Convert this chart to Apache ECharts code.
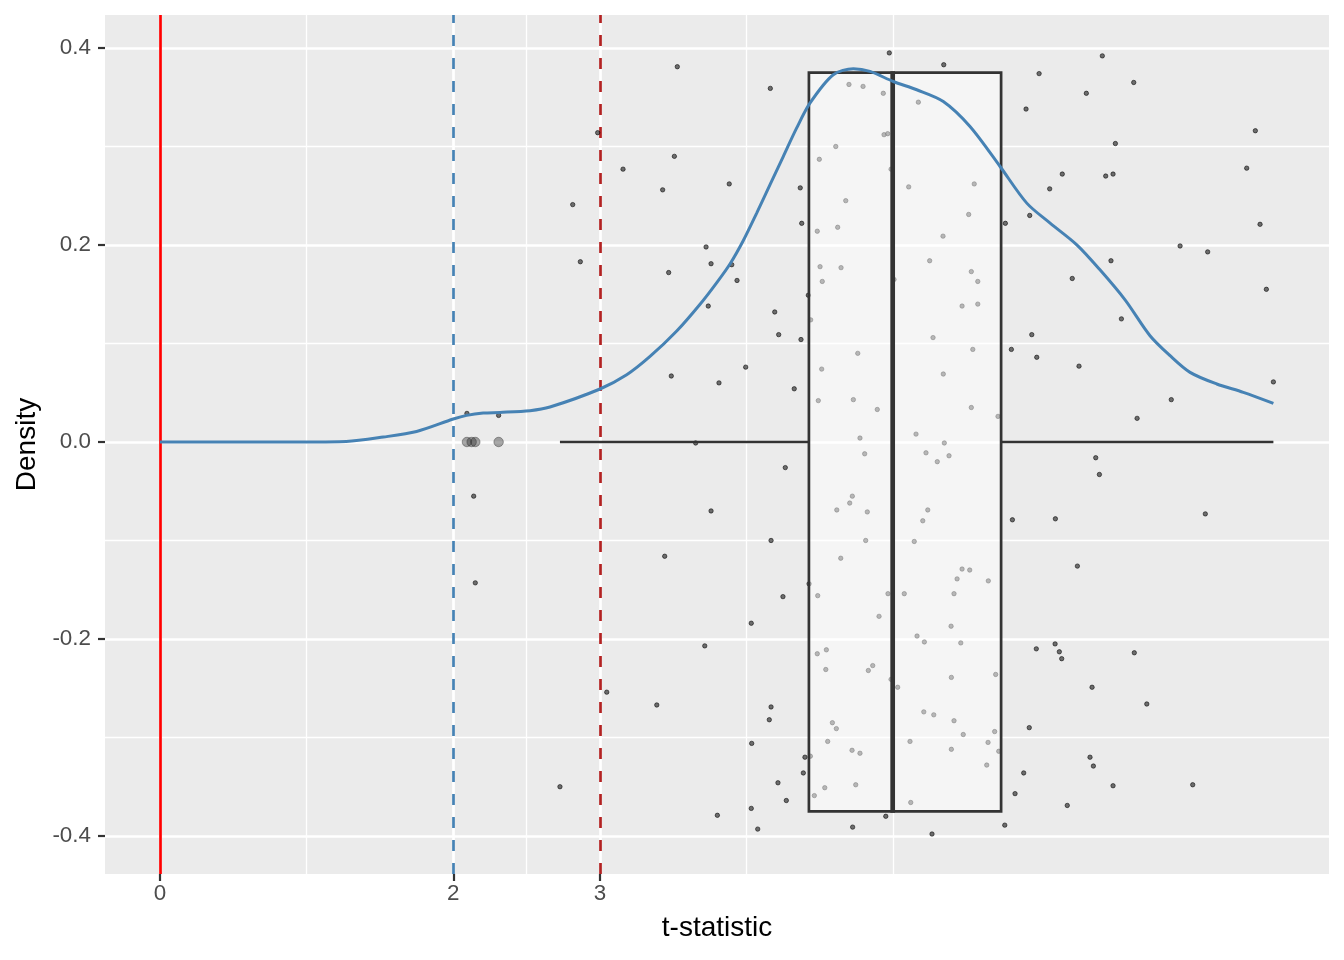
<!DOCTYPE html>
<html><head><meta charset="utf-8">
<script src="https://cdn.jsdelivr.net/npm/echarts@6/dist/echarts.min.js"></script>
<style>html,body{margin:0;padding:0;background:#fff;}#c{width:1344px;height:960px;}</style>
</head><body><div id="c"></div>
<script>
// ---- axis breaks ----
const xTicks = [0, 2, 3];
const xMinorBreaks = [1, 2.5, 4, 5];
const yTicks = [-0.4, -0.2, 0, 0.2, 0.4];
const yMinorBreaks = [-0.3, -0.1, 0.1, 0.3];
// ---- reference lines ----
const refLineSolid = [0];
const refLineBlue = [2];
const refLineRed = [3];
// ---- jittered t-statistics ----
const jitterX = [3.527,4.972,5.343,4.161,4.697,4.793,4.931,5.170,2.984,4.936,4.961,4.607,3.507,4.495,3.157,4.984,3.427,3.881,4.365,5.104,
5.551,2.814,4.675,4.375,4.481,4.620,5.513,5.338,3.723,2.866,3.757,3.898,3.468,3.934,4.500,4.643,4.515,5.247,5.531,5.575,
5.004,4.420,6.424,5.993,6.638,6.315,5.904,7.467,6.513,6.151,6.447,6.497,7.408,6.065,5.763,5.929,7.499,6.954,7.142,6.483,
6.219,7.542,2.093,2.309,2.139,2.150,3.738,4.191,5.468,5.575,4.436,4.218,4.370,5.270,4.757,5.541,4.511,5.340,3.486,3.993,
3.811,4.324,4.488,4.727,4.890,5.531,5.713,4.772,5.154,5.347,3.652,4.804,5.222,5.299,5.379,4.263,4.720,4.702,4.614,4.822,
5.234,5.200,3.757,4.166,4.811,5.142,3.441,4.641,5.468,5.520,5.434,5.647,4.425,4.247,4.484,4.963,5.074,5.413,6.554,5.943,
5.804,5.977,6.265,7.590,6.894,6.661,6.379,6.404,5.811,6.104,7.126,6.254,4.031,3.714,3.046,3.387,4.166,4.154,4.034,4.397,
4.386,4.213,4.270,4.031,4.075,3.800,2.727,4.722,4.948,5.263,4.902,4.481,4.543,4.539,4.829,4.859,4.584,4.611,4.552,4.718,
4.772,4.434,4.532,4.743,4.461,4.984,5.029,5.393,5.161,5.211,5.459,5.395,5.697,5.207,5.275,5.413,5.476,5.690,5.645,5.113,
5.395,5.718,5.636,5.118,5.974,6.102,6.131,6.147,6.642,6.354,6.727,5.926,6.340,6.363,5.888,6.497,7.040,5.829,6.185,5.759];
const jitterY = [0.381,0.395,0.383,0.359,0.363,0.361,0.354,0.345,0.314,0.312,0.313,0.300,0.290,0.287,0.277,0.277,0.256,0.262,0.258,0.259,
0.262,0.241,0.245,0.222,0.214,0.218,0.231,0.209,0.198,0.183,0.181,0.180,0.172,0.164,0.178,0.177,0.163,0.184,0.173,0.163,
0.165,0.149,0.392,0.374,0.365,0.354,0.338,0.316,0.303,0.272,0.270,0.272,0.278,0.257,0.222,0.230,0.221,0.199,0.193,0.184,
0.166,0.155,0.029,0.027,-0.055,-0.143,0.138,0.132,0.138,0.140,0.124,0.109,0.104,0.106,0.090,0.094,0.074,0.069,0.067,0.076,
0.060,0.054,0.042,0.043,0.033,0.035,0.026,0.004,0.008,-0.001,-0.001,-0.012,-0.011,-0.020,-0.014,-0.026,-0.055,-0.062,-0.069,-0.071,
-0.069,-0.080,-0.070,-0.100,-0.100,-0.101,-0.116,-0.118,-0.129,-0.130,-0.139,-0.141,-0.144,-0.157,-0.156,-0.154,-0.154,-0.154,0.125,0.109,
0.094,0.086,0.077,0.061,0.043,0.024,-0.016,-0.033,-0.079,-0.078,-0.073,-0.126,-0.184,-0.207,-0.254,-0.267,-0.269,-0.282,-0.306,-0.320,
-0.336,-0.346,-0.364,-0.372,-0.393,-0.379,-0.350,-0.391,-0.380,-0.398,-0.177,-0.215,-0.211,-0.231,-0.232,-0.227,-0.285,-0.291,-0.304,-0.313,
-0.316,-0.319,-0.351,-0.348,-0.359,-0.241,-0.249,-0.187,-0.197,-0.203,-0.204,-0.239,-0.236,-0.274,-0.277,-0.283,-0.297,-0.294,-0.305,-0.304,
-0.312,-0.314,-0.328,-0.366,-0.210,-0.205,-0.213,-0.220,-0.214,-0.249,-0.266,-0.290,-0.320,-0.329,-0.336,-0.349,-0.348,-0.357,-0.369,-0.389];
// ---- boxplot ----
const boxStats = [2.727, 4.424, 4.995, 5.734, 7.590]; // lower whisker, Q1, median, Q3, upper whisker
const outlierX = [2.093, 2.125, 2.150, 2.309];
// ---- density ----
const densityX = [0, 1.0, 1.27, 1.523, 1.750, 2.0, 2.091, 2.204, 2.318, 2.523, 2.659, 3.0, 3.182, 3.341, 3.523, 3.682, 3.796, 3.887, 3.977, 4.068, 4.159, 4.249, 4.340, 4.431,
4.590, 4.727, 4.840, 4.999, 5.159, 5.340, 5.522, 5.727, 5.909, 6.068, 6.250, 6.408, 6.579, 6.749, 6.886, 7.022, 7.204, 7.385, 7.590];
const densityY = [0, 0, 0.0005, 0.005, 0.0107, 0.0233, 0.0270, 0.0294, 0.0300, 0.0318, 0.0355, 0.0538, 0.0682, 0.0868, 0.1126, 0.1398, 0.1618, 0.1810, 0.2046, 0.2324, 0.2613, 0.2898, 0.3186, 0.3440,
0.3728, 0.3789, 0.3762, 0.3660, 0.3576, 0.3457, 0.3203, 0.2797, 0.2425, 0.2222, 0.2002, 0.1748, 0.1443, 0.1079, 0.0876, 0.0707, 0.0589, 0.0504, 0.0392];

const chart = echarts.init(document.getElementById('c'), null, {renderer: 'canvas'});
const FONT = '"Liberation Sans", Arial, Helvetica, sans-serif';
const BOX_HALF = 0.375;

function vline(vals, color, width, type) {
  return vals.map(v => ({xAxis: v, lineStyle: {color: color, width: width, type: type}}));
}
function hline(vals, color, width) {
  return vals.map(v => ({yAxis: v, lineStyle: {color: color, width: width, type: 'solid'}}));
}

const option = {
  animation: false,
  backgroundColor: '#ffffff',
  grid: {left: 105, top: 15, width: 1224, height: 859, show: true, backgroundColor: '#EBEBEB', borderWidth: 0, containLabel: false},
  xAxis: {
    type: 'value', min: -0.374, max: 7.969,
    name: 't-statistic', nameLocation: 'middle', nameGap: 40,
    nameTextStyle: {fontSize: 28, color: '#000', fontFamily: FONT},
    axisLine: {show: false, onZero: false},
    axisTick: {show: true, length: 7, lineStyle: {color: '#333', width: 2.2}, customValues: xTicks},
    axisLabel: {show: true, fontSize: 22.4, color: '#4D4D4D', fontFamily: FONT, margin: 9, customValues: xTicks,
      formatter: v => String(v)},
    splitLine: {show: false}
  },
  yAxis: {
    type: 'value', min: -0.4386, max: 0.4335,
    name: 'Density', nameLocation: 'middle', nameGap: 61, nameRotate: 90,
    nameTextStyle: {fontSize: 28, color: '#000', fontFamily: FONT},
    axisLine: {show: false, onZero: false},
    axisTick: {show: true, length: 7, lineStyle: {color: '#333', width: 2.2}, customValues: yTicks},
    axisLabel: {show: true, fontSize: 22.4, color: '#4D4D4D', fontFamily: FONT, margin: 14, customValues: yTicks,
      formatter: v => (Math.abs(v) < 1e-9 ? 0 : v).toFixed(1)},
    splitLine: {show: false}
  },
  series: [
    { // panel grid lines
      type: 'line', data: [], z: 1, silent: true,
      markLine: {silent: true, z: 1, symbol: 'none', label: {show: false}, animation: false,
        data: [].concat(
          vline(xMinorBreaks, '#FFFFFF', 1.3, 'solid'),
          hline(yMinorBreaks, '#FFFFFF', 1.3),
          vline(xTicks, '#FFFFFF', 2.7, 'solid'),
          hline(yTicks, '#FFFFFF', 2.7)
        )}
    },
    { // reference lines
      type: 'line', data: [], z: 2, silent: true,
      markLine: {silent: true, z: 2, symbol: 'none', label: {show: false}, animation: false,
        data: [].concat(
          vline(refLineSolid, '#FF0000', 2.7, 'solid'),
          vline(refLineBlue, '#4682B4', 2.7, [11, 12]),
          vline(refLineRed, '#B22222', 2.7, [11, 12])
        )}
    },
    { // jittered points
      type: 'scatter', z: 3, silent: true,
      data: jitterX.map((x, i) => [x, jitterY[i]]),
      symbol: 'circle', symbolSize: 4.4,
      itemStyle: {color: 'rgba(0,0,0,0.68)', borderColor: 'rgba(0,0,0,0.68)', borderWidth: 1}
    },
    { // boxplot
      type: 'custom', z: 4, silent: true,
      data: [boxStats],
      encode: {x: [0, 1, 2, 3, 4]},
      renderItem: function (params, api) {
        const lo = api.value(0), q1 = api.value(1), med = api.value(2), q3 = api.value(3), hi = api.value(4);
        const a = api.coord([lo, 0]), b = api.coord([q1, 0]);
        const c = api.coord([q3, 0]), d = api.coord([hi, 0]);
        const tl = api.coord([q1, BOX_HALF]), br = api.coord([q3, -BOX_HALF]);
        const mt = api.coord([med, BOX_HALF]), mb = api.coord([med, -BOX_HALF]);
        const MW = 4.7;
        return {type: 'group', children: [
          {type: 'line', shape: {x1: a[0], y1: a[1], x2: b[0], y2: b[1]}, style: {stroke: '#333333', lineWidth: 2.7, fill: null}},
          {type: 'line', shape: {x1: c[0], y1: c[1], x2: d[0], y2: d[1]}, style: {stroke: '#333333', lineWidth: 2.7, fill: null}},
          {type: 'rect', shape: {x: tl[0], y: tl[1], width: br[0] - tl[0], height: br[1] - tl[1]},
            style: {fill: 'rgba(255,255,255,0.5)', stroke: '#333333', lineWidth: 2.7}},
          {type: 'rect', shape: {x: mt[0] - MW / 2, y: mt[1] - 1.35, width: MW, height: mb[1] - mt[1] + 2.7},
            style: {fill: '#333333', stroke: null}}
        ]};
      }
    },
    { // outliers
      type: 'scatter', z: 5, silent: true,
      data: outlierX.map(x => [x, 0]),
      symbol: 'circle', symbolSize: 9.5,
      itemStyle: {color: 'rgba(40,40,40,0.5)', borderColor: 'rgba(40,40,40,0.5)', borderWidth: 1}
    },
    { // density
      type: 'line', z: 6, silent: true,
      data: densityX.map((x, i) => [x, densityY[i]]),
      smooth: 0.3, symbol: 'none',
      lineStyle: {color: '#4682B4', width: 3}
    }
  ]
};
chart.setOption(option);
</script>
</body></html>
